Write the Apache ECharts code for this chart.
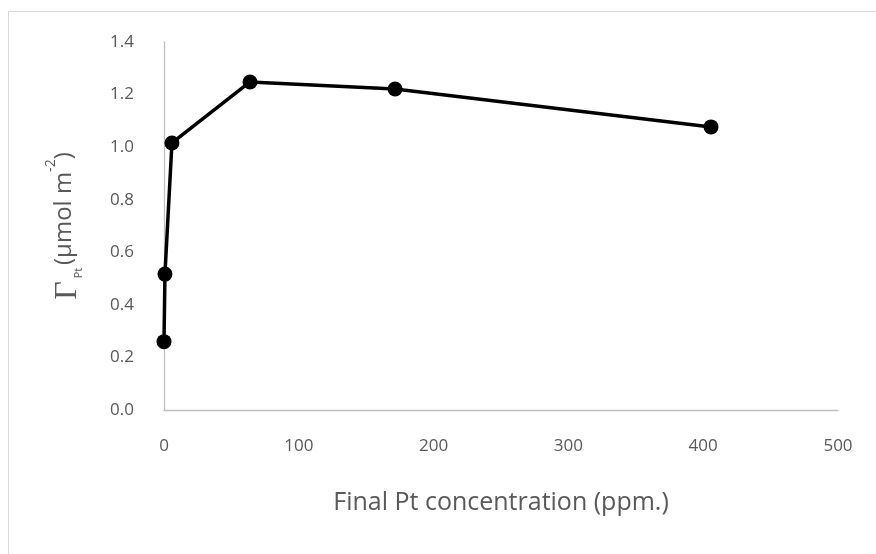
<!DOCTYPE html>
<html>
<head>
<meta charset="utf-8">
<script src="https://cdn.jsdelivr.net/npm/echarts@6/dist/echarts.min.js"></script>
<style>html,body{margin:0;padding:0;background:#fff;}#c{width:876px;height:554px;}</style>
</head>
<body>
<div id="c"></div>
<script>
const xValues = [0, 0.7, 5.9, 63.8, 171.4, 405.8];
const yValues = [0.26, 0.517, 1.016, 1.248, 1.221, 1.077];
const xTicks = [0, 100, 200, 300, 400, 500];
const yTicks = [0, 0.2, 0.4, 0.6, 0.8, 1.0, 1.2, 1.4];
const xTitle = 'Final Pt concentration (ppm.)';

const chart = echarts.init(document.getElementById('c'));
const font = '"Open Sans", "Noto Sans", sans-serif';
chart.setOption({
  animation: false,
  graphic: [{
    type: 'rect', shape: {x: 8.5, y: 11.5, width: 900, height: 600},
    style: {fill: 'none', stroke: '#d9d9d9', lineWidth: 1}, silent: true
  }],
  grid: {left: 164, right: 38, top: 42, bottom: 144},
  xAxis: {
    type: 'value', min: xTicks[0], max: xTicks[xTicks.length - 1], interval: 100,
    axisLine: {show: true, lineStyle: {color: '#bfbfbf', width: 1.3}},
    axisTick: {show: false}, splitLine: {show: false},
    axisLabel: {color: '#595959', fontSize: 17, fontFamily: font, margin: 28},
    name: xTitle, nameLocation: 'middle', nameGap: 80,
    nameTextStyle: {color: '#595959', fontSize: 25, fontFamily: font}
  },
  yAxis: {
    type: 'value', min: yTicks[0], max: yTicks[yTicks.length - 1], interval: 0.2,
    axisLine: {show: true, lineStyle: {color: '#bfbfbf', width: 1.3}},
    axisTick: {show: false}, splitLine: {show: false},
    axisLabel: {color: '#595959', fontSize: 17, fontFamily: font, margin: 30,
      formatter: v => v.toFixed(1)},
    name: '{g|Γ}{s| Pt }{t|(µmol m}{p|-2}{t|)}', nameLocation: 'middle', nameGap: 80, nameRotate: 90,
    nameTextStyle: {
      color: '#595959', lineHeight: 40,
      rich: {
        g: {fontFamily: '"Liberation Serif", "DejaVu Serif", serif', fontSize: 32, color: '#595959', verticalAlign: 'bottom', lineHeight: 40},
        s: {fontFamily: font, fontSize: 11, color: '#595959', verticalAlign: 'bottom', lineHeight: 40},
        t: {fontFamily: font, fontSize: 24, color: '#595959', lineHeight: 40},
        p: {fontFamily: font, fontSize: 14, color: '#595959', verticalAlign: 'top', lineHeight: 40}
      }
    }
  },
  series: [{
    type: 'line',
    data: xValues.map((x, i) => [x, yValues[i]]),
    symbol: 'circle', symbolSize: 15,
    lineStyle: {color: '#000', width: 3.5},
    itemStyle: {color: '#000'}
  }]
});
</script>
</body>
</html>
